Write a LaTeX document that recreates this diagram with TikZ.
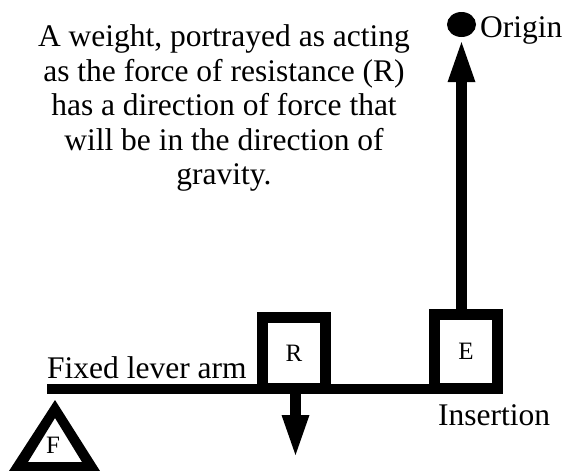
\documentclass[tikz,border=0pt]{standalone}
\usepackage{fontspec}
\setmainfont{Liberation Serif}
\usetikzlibrary{arrows.meta,shapes.geometric}
\begin{document}
\begin{tikzpicture}[x=1pt,y=-1pt,
  bigtext/.style={font=\fontsize{31.5}{34.5}\selectfont, inner sep=0pt},
  smalltext/.style={font=\fontsize{25}{28}\selectfont},
  heavybox/.style={draw, line width=11pt, minimum width=63pt, inner sep=0pt},
  force/.style={line width=11pt, -{Triangle[width=28pt,length=40pt,line width=0pt]}}
]
\useasboundingbox (0,0) rectangle (568,471);
% lever arm
\node[fill, minimum width=456pt, minimum height=10pt, inner sep=0pt, anchor=north west] (arm) at (47,384) {};
% boxes
\node[heavybox, minimum height=71pt, smalltext] (R) at (294,353) {R};
\node[heavybox, minimum height=74pt, smalltext] (E) at (466,351.5) {E};
% origin dot
\node[fill, ellipse, minimum width=29pt, minimum height=25pt, inner sep=0pt] (O) at (461.5,24.5) {};
% effort arrow
\draw[force] (O.south |- E.north) -- ([yshift=-5pt]O.south);
% resistance arrow
\coordinate (g) at (295.5,455);
\draw[force] (arm.south -| g) -- (g);
% fulcrum
\fill[even odd rule] (55,400) -- (100,471) -- (9,471) -- cycle (55,418) -- (82,462) -- (28,462) -- cycle;
\node[smalltext, inner sep=0pt] (F) at (53,445) {F};
% texts
\node[bigtext, align=center, anchor=north] (desc) at (224,24.5) {A weight, portrayed as acting\\as the force of resistance (R)\\has a direction of force that\\will be in the direction of\\gravity.};
\node[bigtext, anchor=base west] (orig) at (480,37) {Origin};
\node[bigtext, anchor=base west] (fla) at (47,378) {Fixed lever arm};
\node[bigtext, anchor=base west] (ins) at (438,425) {Insertion};
\end{tikzpicture}
\end{document}
